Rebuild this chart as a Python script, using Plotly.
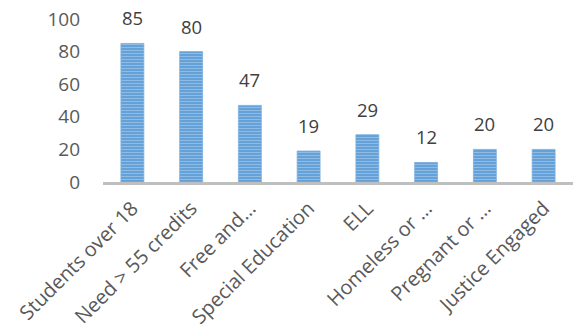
import plotly.graph_objects as go

categories = ["Students over 18", "Need > 55 credits", "Free and…", "Special Education",
              "ELL", "Homeless or …", "Pregnant or …", "Justice Engaged"]
values = [85, 80, 47, 19, 29, 12, 20, 20]
y_ticks = [0, 20, 40, 60, 80, 100]

fig = go.Figure()
fig.add_trace(go.Bar(
    x=categories, y=values, width=0.39,
    marker=dict(color="#5B9BD5",
                line=dict(color="#7AAEDD", width=0.8),
                pattern=dict(shape="-", fgcolor="#C5DCF1", bgcolor="#5B9BD5",
                             size=3, solidity=0.45, fillmode="overlay")),
    hoverinfo="skip",
))

for c, v in zip(categories, values):
    fig.add_annotation(x=c, y=v, text=str(v), showarrow=False, yanchor="bottom",
                       yshift=11, font=dict(size=18.5, color="#404040"))

font_family = "Open Sans, Liberation Sans, sans-serif"
fig.update_layout(
    width=573, height=332,
    margin=dict(l=103, r=0, t=19, b=150),
    paper_bgcolor="white", plot_bgcolor="white",
    font=dict(family=font_family, color="#595959", size=19),
    showlegend=False,
    bargap=0.6,
)
fig.update_xaxes(
    tickangle=-45, showline=True, linecolor="#BFBFBF", linewidth=2.5,
    showgrid=False, ticks="", tickfont=dict(size=20, color="#595959"),
    range=[-0.5, 7.5], ticklabelstandoff=4,
)
fig.update_yaxes(
    range=[0, 100], tickvals=y_ticks, showgrid=False, zeroline=False,
    showline=False, ticks="", ticklabelstandoff=22,
    tickfont=dict(size=19, color="#595959"),
)
fig.write_html("out.html")
